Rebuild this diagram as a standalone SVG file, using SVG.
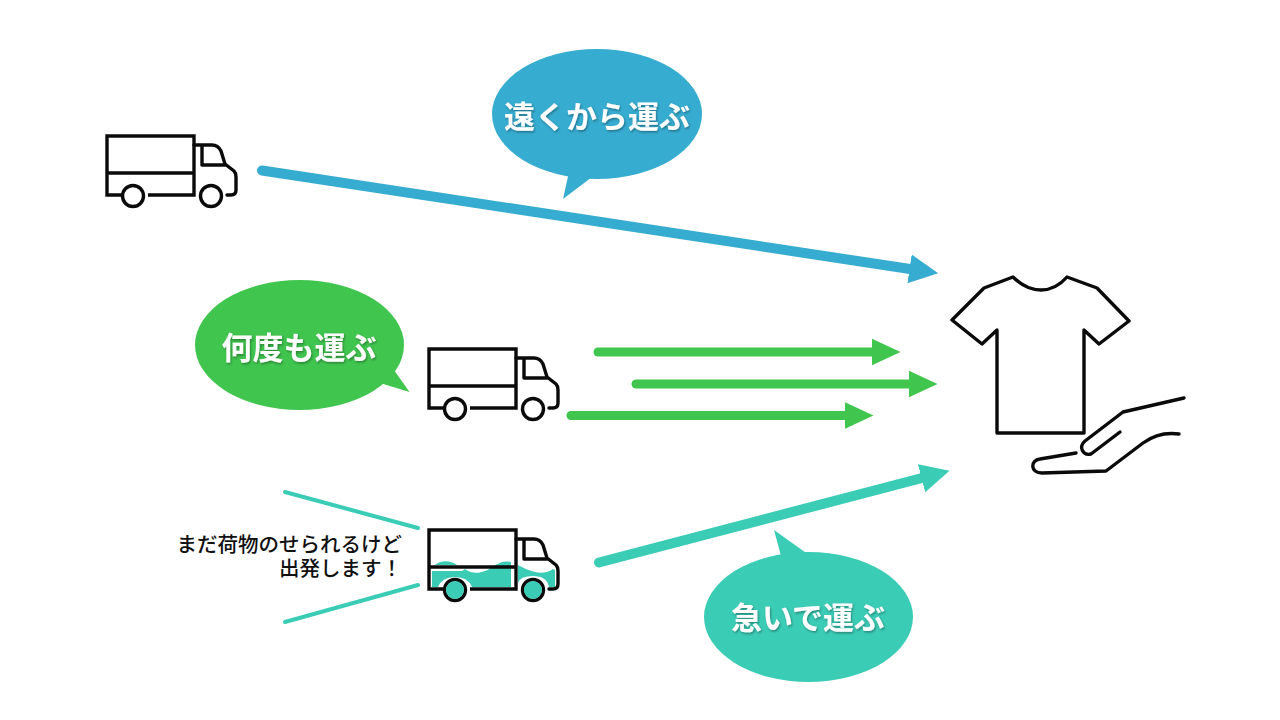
<svg xmlns="http://www.w3.org/2000/svg" width="1280" height="720" viewBox="0 0 1280 720">
  <style>
    .ink { fill: none; stroke: #0a0a0a; stroke-width: 3.4; stroke-linejoin: round; stroke-linecap: round; }
    .box { stroke-linejoin: miter; stroke-linecap: butt; }
    .jp { font-family: "Noto Sans CJK JP", "Noto Sans", sans-serif; font-weight: 700; }
    .label { font-size: 31px; fill: #ffffff; text-anchor: middle; filter: url(#soft); }
    .note { font-size: 20.500px; font-weight: 500; fill: #111111; text-anchor: end; }
    .blue { fill: #36acd0; }
    .green { fill: #40c54f; }
    .teal { fill: #3bccb6; }
    .shaft { fill: none; stroke-linecap: round; }
  </style>
  <defs>
    <filter id="soft" x="-10%" y="-20%" width="120%" height="150%">
      <feDropShadow dx="1" dy="1.5" stdDeviation="1" flood-color="#000000" flood-opacity="0.35"/>
    </filter>
    <marker id="headBlue" markerUnits="userSpaceOnUse" markerWidth="30" markerHeight="30" refX="0.5" refY="15" orient="auto">
      <path d="M0,0.5 L29,15 L0,29.5 Z" class="blue"/>
    </marker>
    <marker id="headGreen" markerUnits="userSpaceOnUse" markerWidth="30" markerHeight="30" refX="0.5" refY="15" orient="auto">
      <path d="M0,1.5 L29,15 L0,28.5 Z" class="green"/>
    </marker>
    <marker id="headTeal" markerUnits="userSpaceOnUse" markerWidth="30" markerHeight="30" refX="0.5" refY="15" orient="auto">
      <path d="M0,0.5 L29,15 L0,29.5 Z" class="teal"/>
    </marker>
    <g id="truckLines">
      <path class="ink box" d="M121,195 H107 V136 H194 V195 H148 M107,173 H194"/>
      <path class="ink" d="M194,145 H212 Q218,145 221,151 L225,164 L234,171 Q236,173 236,177 V190 Q236,195 231,195 H227 M202,146 V165 H225"/>
      <circle class="ink" cx="133" cy="196" r="10.5"/>
      <circle class="ink" cx="211" cy="196" r="10.5"/>
    </g>
  </defs>

  <rect width="1280" height="720" fill="#ffffff"/>

  <g id="connectors">
    <path class="shaft" stroke="#36acd0" stroke-width="10" d="M262,170.5 L910,269" marker-end="url(#headBlue)"/>
    <path class="shaft" stroke="#40c54f" stroke-width="9" d="M598,352 H872" marker-end="url(#headGreen)"/>
    <path class="shaft" stroke="#40c54f" stroke-width="9" d="M636,384 H909" marker-end="url(#headGreen)"/>
    <path class="shaft" stroke="#40c54f" stroke-width="9" d="M571,415.5 H845" marker-end="url(#headGreen)"/>
    <path class="shaft" stroke="#3bccb6" stroke-width="10" d="M599,562.5 L922,478" marker-end="url(#headTeal)"/>
    <path d="M285,492 L418,528 M285,622 L418,585" fill="none" stroke="#3bccb6" stroke-width="4" stroke-linecap="round"/>
  </g>

  <g id="truck-far">
    <use href="#truckLines"/>
  </g>

  <g id="truck-repeat" transform="translate(322,213)">
    <use href="#truckLines"/>
  </g>

  <g id="truck-partial" transform="translate(322,394)">
    <path class="teal" d="M110,177 V193 H116 Q120,183 133,183 Q146,183 150,193 H189 V168 C182,168 176,169 170,173 C164,178 152,182 143,175 L140,177 Z"/>
    <path class="teal" d="M113,171 C119,166 128,166 135,171 Z M175,171 C179,167 184,167 189,168 V171 Z"/>
    <path class="teal" d="M196,171 C205,176 220,183 231,175 L233,176 V193 H227 Q225,182 211,182 Q198,182 196,189 Z"/>
    <use href="#truckLines"/>
    <circle class="teal" cx="133" cy="196" r="9"/>
    <circle class="teal" cx="211" cy="196" r="9"/>
  </g>

  <g id="shirt">
    <path class="ink" d="M1013,277 C1021,285 1030,290 1041,290 C1052,290 1060,285 1067,277 L1097,288 L1129,321 L1099,344 L1084,330 V433 H997 V330 L982,344 L952,320 L984,288 Z"/>
  </g>

  <g id="hand">
    <path class="ink" d="M1184,398 L1123,412 L1085,441 C1078,447 1083,456 1091,454 L1120,432"/>
    <path class="ink" d="M1179,434 C1165,432 1154,435 1143,443 L1106,471 L1042,473 C1030,473 1030,460 1040,459 L1076,453"/>
  </g>

  <g id="bubble-far">
    <path class="blue" d="M569,172 L563,199 L596,174 Z"/>
    <ellipse class="blue" cx="597" cy="114" rx="105" ry="65"/>
    <text class="jp label" x="597" y="128">遠くから運ぶ</text>
  </g>

  <g id="bubble-repeat">
    <path class="green" d="M380,383 L409.500,392 L394,370 Z"/>
    <ellipse class="green" cx="299.500" cy="345" rx="104.500" ry="65"/>
    <text class="jp label" x="299" y="359">何度も運ぶ</text>
  </g>

  <g id="bubble-rush">
    <path class="teal" d="M781,556 L774,530 L809,555 Z"/>
    <ellipse class="teal" cx="808.500" cy="617" rx="104.500" ry="65"/>
    <text class="jp label" x="808" y="629">急いで運ぶ</text>
  </g>

  <g id="note-partial">
    <text class="jp note"><tspan x="402" y="552">まだ荷物のせられるけど</tspan><tspan x="402" y="576">出発します！</tspan></text>
  </g>
</svg>
